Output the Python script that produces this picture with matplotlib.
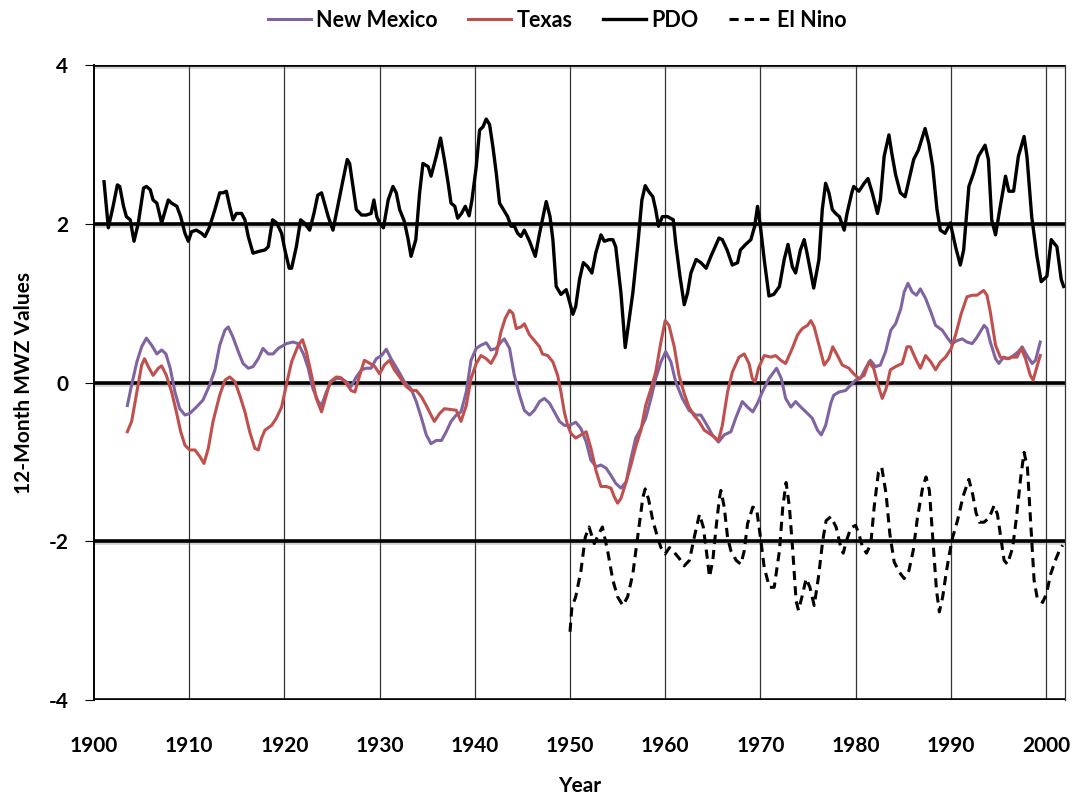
import matplotlib.pyplot as plt
import matplotlib.patheffects as pe

# PDO (черная сплошная линия)
pdo_years = [1901.05, 1901.5, 1902.0, 1902.45, 1902.7, 1903.1, 1903.4, 1903.8, 1904.2, 1904.65,
             1905.2, 1905.5, 1905.9, 1906.2, 1906.6, 1907.1, 1907.8, 1908.15, 1908.7, 1909.1,
             1909.55, 1909.9, 1910.25, 1910.75, 1911.3, 1911.65, 1912.1, 1912.7, 1913.2, 1913.55,
             1913.9, 1914.25, 1914.6, 1914.95, 1915.5, 1915.85, 1916.2, 1916.7, 1917.25, 1917.95,
             1918.3, 1918.75, 1919.2, 1919.7, 1920.05, 1920.5, 1920.75, 1921.25, 1921.7, 1922.1,
             1922.65, 1923.1, 1923.5, 1923.9, 1924.2, 1924.6, 1925.1, 1925.6, 1926.15, 1926.6,
             1926.85, 1927.2, 1927.55, 1928.1, 1928.6, 1929.1, 1929.4, 1929.7, 1930.0, 1930.4,
             1930.9, 1931.4, 1931.75, 1932.1, 1932.6, 1933.0, 1933.3, 1933.8, 1934.2, 1934.55,
             1935.1, 1935.4, 1935.95, 1936.4, 1936.8, 1937.2, 1937.5, 1937.9, 1938.2, 1938.6,
             1939.0, 1939.4, 1939.7, 1940.15, 1940.5, 1940.85, 1941.2, 1941.55, 1941.9, 1942.25,
             1942.6, 1943.0, 1943.45, 1943.8, 1944.15, 1944.5, 1944.85, 1945.2, 1945.75, 1946.35,
             1946.8, 1947.5, 1947.9, 1948.2, 1948.55, 1949.05, 1949.6, 1949.9, 1950.3, 1950.6,
             1951.0, 1951.4, 1951.85, 1952.3, 1952.7, 1953.25, 1953.6, 1954.1, 1954.5, 1954.8,
             1955.35, 1955.8, 1956.6, 1957.1, 1957.55, 1957.9, 1958.25, 1958.7, 1959.0, 1959.3,
             1959.7, 1960.25, 1960.85, 1961.1, 1961.55, 1962.0, 1962.35, 1962.7, 1963.25, 1963.75,
             1964.3, 1964.8, 1965.65, 1966.0, 1966.5, 1967.05, 1967.6, 1967.9, 1968.45, 1969.0,
             1969.4, 1969.7, 1970.0, 1970.4, 1970.9, 1971.4, 1972.0, 1972.5, 1972.9, 1973.35,
             1973.7, 1974.2, 1974.6, 1974.9, 1975.3, 1975.6, 1976.15, 1976.5, 1976.85, 1977.2,
             1977.55, 1977.9, 1978.3, 1978.8, 1979.1, 1979.6, 1979.8, 1980.35, 1980.9, 1981.3,
             1981.75, 1982.3, 1982.6, 1983.0, 1983.5, 1983.8, 1984.2, 1984.7, 1985.2, 1985.6,
             1986.1, 1986.6, 1987.3, 1987.7, 1988.1, 1988.55, 1988.9, 1989.4, 1989.95, 1990.5,
             1991.0, 1991.35, 1991.9, 1992.4, 1992.9, 1993.6, 1993.95, 1994.3, 1994.7, 1995.2,
             1995.75, 1996.1, 1996.6, 1997.1, 1997.7, 1998.0, 1998.5, 1999.05, 1999.5, 2000.1,
             2000.55, 2001.15, 2001.6, 2001.85]
pdo_vals = [2.53, 1.95, 2.22, 2.49, 2.47, 2.22, 2.09, 2.05, 1.78, 2.01,
            2.45, 2.47, 2.43, 2.30, 2.26, 2.01, 2.30, 2.26, 2.22, 2.09,
            1.88, 1.78, 1.90, 1.92, 1.88, 1.84, 1.95, 2.18, 2.39, 2.39,
            2.41, 2.22, 2.05, 2.13, 2.13, 2.05, 1.84, 1.63, 1.65, 1.67,
            1.71, 2.05, 2.01, 1.88, 1.67, 1.44, 1.44, 1.71, 2.05, 2.01,
            1.92, 2.13, 2.36, 2.39, 2.26, 2.09, 1.92, 2.22, 2.55, 2.81,
            2.76, 2.47, 2.18, 2.11, 2.11, 2.13, 2.30, 2.09, 2.01, 1.95,
            2.30, 2.47, 2.39, 2.18, 2.03, 1.80, 1.59, 1.80, 2.39, 2.76,
            2.72, 2.60, 2.85, 3.08, 2.81, 2.51, 2.26, 2.22, 2.07, 2.13,
            2.22, 2.10, 2.30, 2.72, 3.18, 3.22, 3.32, 3.25, 2.97, 2.64,
            2.26, 2.18, 2.09, 1.97, 1.97, 1.88, 1.84, 1.92, 1.78, 1.59,
            1.88, 2.28, 2.09, 1.80, 1.21, 1.11, 1.17, 1.04, 0.86, 0.96,
            1.30, 1.51, 1.46, 1.38, 1.63, 1.86, 1.78, 1.80, 1.80, 1.71,
            1.13, 0.44, 1.13, 1.71, 2.30, 2.48, 2.41, 2.34, 2.18, 1.97,
            2.09, 2.09, 2.05, 1.76, 1.34, 0.98, 1.13, 1.38, 1.55, 1.51,
            1.44, 1.59, 1.82, 1.80, 1.67, 1.48, 1.51, 1.67, 1.74, 1.80,
            1.97, 2.22, 1.97, 1.55, 1.09, 1.11, 1.21, 1.55, 1.74, 1.46,
            1.38, 1.67, 1.80, 1.63, 1.38, 1.19, 1.55, 2.18, 2.51, 2.39,
            2.18, 2.13, 2.09, 1.92, 2.13, 2.39, 2.47, 2.41, 2.51, 2.57,
            2.39, 2.13, 2.30, 2.85, 3.12, 2.89, 2.62, 2.39, 2.34, 2.55,
            2.81, 2.93, 3.20, 3.01, 2.72, 2.18, 1.92, 1.88, 2.01, 1.71,
            1.48, 1.67, 2.47, 2.64, 2.85, 2.99, 2.81, 2.05, 1.86, 2.22,
            2.60, 2.41, 2.41, 2.85, 3.10, 2.85, 2.09, 1.59, 1.27, 1.34,
            1.80, 1.71, 1.30, 1.21]

# Нью-Мексико (фиолетовая линия)
nm_years = [1903.5, 1903.95, 1904.5, 1905.0, 1905.5, 1906.05, 1906.6, 1907.1, 1907.55, 1908.0,
            1908.5, 1909.0, 1909.55, 1910.05, 1910.75, 1911.45, 1912.15, 1912.7, 1913.2, 1913.75,
            1914.1, 1914.6, 1915.15, 1915.65, 1916.2, 1916.7, 1917.25, 1917.75, 1918.3, 1918.8,
            1919.35, 1920.2, 1920.9, 1921.45, 1922.0, 1922.5, 1923.0, 1923.55, 1923.9, 1924.4,
            1924.9, 1925.45, 1925.95, 1926.5, 1927.0, 1927.55, 1928.1, 1928.6, 1929.1, 1929.65,
            1930.2, 1930.7, 1931.2, 1931.9, 1932.6, 1933.3, 1933.85, 1934.4, 1934.9, 1935.4,
            1935.95, 1936.5, 1937.0, 1937.5, 1938.05, 1938.55, 1939.1, 1939.6, 1940.15, 1940.65,
            1941.2, 1941.7, 1942.25, 1942.75, 1943.1, 1943.65, 1944.15, 1944.7, 1945.2, 1945.75,
            1946.25, 1946.8, 1947.3, 1947.85, 1948.35, 1948.9, 1949.4, 1949.95, 1950.6, 1951.15,
            1951.7, 1952.2, 1952.75, 1953.25, 1953.8, 1954.3, 1954.8, 1955.35, 1955.9, 1956.4,
            1956.9, 1957.45, 1957.95, 1958.5, 1959.0, 1959.55, 1960.05, 1960.6, 1961.1, 1961.8,
            1962.5, 1963.2, 1963.75, 1964.4, 1964.95, 1965.6, 1966.2, 1966.9, 1967.4, 1968.1,
            1968.65, 1969.2, 1969.7, 1970.2, 1970.9, 1971.7, 1972.2, 1972.65, 1973.2, 1973.7,
            1974.25, 1974.95, 1975.45, 1976.0, 1976.4, 1976.85, 1977.4, 1977.7, 1978.25, 1978.95,
            1979.5, 1980.0, 1980.5, 1981.05, 1981.55, 1982.1, 1982.6, 1983.15, 1983.7, 1984.2,
            1984.75, 1985.1, 1985.5, 1985.95, 1986.4, 1986.8, 1987.35, 1987.9, 1988.4, 1989.1,
            1989.6, 1990.1, 1990.7, 1991.2, 1991.7, 1992.25, 1992.75, 1993.5, 1993.8, 1994.15,
            1994.7, 1995.05, 1995.55, 1996.1, 1996.6, 1997.1, 1997.5, 1998.0, 1998.55, 1998.9,
            1999.4]
nm_vals = [-0.29, -0.03, 0.26, 0.45, 0.56, 0.47, 0.36, 0.41, 0.36, 0.18,
           -0.12, -0.33, -0.41, -0.39, -0.31, -0.22, -0.03, 0.16, 0.47, 0.66,
           0.70, 0.57, 0.39, 0.24, 0.18, 0.20, 0.30, 0.43, 0.36, 0.36,
           0.43, 0.49, 0.51, 0.49, 0.36, 0.18, -0.08, -0.24, -0.29, -0.12,
           0.01, 0.05, 0.05, 0.01, -0.05, 0.07, 0.16, 0.18, 0.18, 0.30,
           0.34, 0.42, 0.30, 0.16, 0.01, -0.08, -0.24, -0.45, -0.66, -0.77,
           -0.73, -0.73, -0.62, -0.49, -0.41, -0.37, -0.12, 0.28, 0.43, 0.47,
           0.50, 0.41, 0.43, 0.51, 0.55, 0.43, 0.09, -0.16, -0.35, -0.41,
           -0.35, -0.24, -0.20, -0.26, -0.37, -0.49, -0.54, -0.54, -0.50, -0.58,
           -0.75, -0.98, -1.06, -1.04, -1.08, -1.17, -1.27, -1.33, -1.25, -0.96,
           -0.70, -0.58, -0.45, -0.20, 0.05, 0.26, 0.39, 0.26, 0.01, -0.20,
           -0.35, -0.41, -0.41, -0.54, -0.66, -0.75, -0.66, -0.62, -0.45, -0.24,
           -0.31, -0.37, -0.26, -0.12, 0.05, 0.18, 0.05, -0.20, -0.31, -0.24,
           -0.31, -0.39, -0.45, -0.60, -0.66, -0.54, -0.26, -0.16, -0.12, -0.10,
           -0.03, 0.03, 0.05, 0.18, 0.28, 0.20, 0.22, 0.39, 0.66, 0.74,
           0.93, 1.14, 1.25, 1.14, 1.10, 1.18, 1.06, 0.89, 0.72, 0.66,
           0.57, 0.49, 0.53, 0.55, 0.51, 0.49, 0.57, 0.72, 0.68, 0.51,
           0.30, 0.24, 0.32, 0.30, 0.34, 0.39, 0.45, 0.34, 0.24, 0.28,
           0.51]

# Техас (красная линия)
tx_years = [1903.5, 1903.95, 1904.5, 1905.0, 1905.3, 1905.7, 1906.2, 1906.75, 1907.1, 1907.6,
            1908.15, 1908.65, 1909.1, 1909.55, 1910.05, 1910.6, 1911.1, 1911.55, 1912.0, 1912.5,
            1913.2, 1913.75, 1914.25, 1914.8, 1915.3, 1915.85, 1916.35, 1916.9, 1917.25, 1917.6,
            1917.95, 1918.65, 1919.15, 1919.7, 1920.2, 1920.75, 1921.45, 1921.9, 1922.3, 1922.85,
            1923.35, 1923.9, 1924.4, 1924.8, 1925.45, 1925.95, 1926.5, 1927.0, 1927.4, 1927.9,
            1928.4, 1929.0, 1929.5, 1930.0, 1930.5, 1931.05, 1931.55, 1932.1, 1932.8, 1933.3,
            1933.85, 1934.4, 1934.9, 1935.4, 1935.75, 1936.3, 1936.8, 1937.5, 1938.05, 1938.55,
            1939.1, 1939.6, 1940.15, 1940.65, 1941.2, 1941.7, 1942.25, 1942.75, 1943.2, 1943.65,
            1944.0, 1944.35, 1944.85, 1945.2, 1945.75, 1946.25, 1946.8, 1947.1, 1947.65, 1948.2,
            1948.7, 1949.05, 1949.4, 1949.75, 1950.1, 1950.6, 1951.15, 1951.7, 1952.2, 1952.75,
            1953.25, 1953.8, 1954.3, 1954.65, 1955.0, 1955.35, 1955.9, 1956.4, 1956.9, 1957.45,
            1957.95, 1958.5, 1959.0, 1959.55, 1960.0, 1960.4, 1960.95, 1961.45, 1962.0, 1962.5,
            1963.0, 1963.55, 1964.1, 1964.6, 1965.1, 1965.6, 1966.0, 1966.55, 1967.05, 1967.75,
            1968.3, 1968.8, 1969.15, 1969.45, 1969.8, 1970.4, 1971.1, 1971.6, 1972.15, 1972.65,
            1973.35, 1973.9, 1974.4, 1974.95, 1975.3, 1975.65, 1976.15, 1976.7, 1977.2, 1977.6,
            1978.1, 1978.6, 1979.3, 1979.8, 1980.35, 1980.9, 1981.4, 1981.9, 1982.35, 1982.8,
            1983.2, 1983.65, 1984.2, 1984.9, 1985.4, 1985.75, 1986.3, 1986.8, 1987.35, 1987.9,
            1988.4, 1988.9, 1989.45, 1990.05, 1990.55, 1991.1, 1991.7, 1992.25, 1992.75, 1993.45,
            1993.8, 1994.15, 1994.7, 1995.2, 1995.9, 1996.4, 1996.95, 1997.4, 1997.85, 1998.35,
            1998.65, 1999.05, 1999.4]
tx_vals = [-0.62, -0.49, -0.12, 0.22, 0.30, 0.20, 0.09, 0.18, 0.21, 0.09,
           -0.12, -0.37, -0.62, -0.79, -0.85, -0.85, -0.93, -1.02, -0.83, -0.49,
           -0.16, 0.03, 0.07, 0.01, -0.16, -0.37, -0.62, -0.83, -0.85, -0.70,
           -0.60, -0.54, -0.45, -0.31, -0.03, 0.26, 0.47, 0.54, 0.39, 0.09,
           -0.20, -0.37, -0.16, 0.01, 0.07, 0.06, -0.01, -0.10, -0.12, 0.09,
           0.28, 0.24, 0.20, 0.11, 0.22, 0.28, 0.16, 0.07, -0.05, -0.10,
           -0.10, -0.18, -0.29, -0.41, -0.49, -0.39, -0.33, -0.34, -0.35, -0.49,
           -0.29, 0.05, 0.24, 0.34, 0.30, 0.24, 0.36, 0.64, 0.81, 0.91,
           0.87, 0.68, 0.70, 0.74, 0.60, 0.53, 0.45, 0.36, 0.34, 0.26,
           0.09, -0.12, -0.37, -0.54, -0.64, -0.70, -0.66, -0.62, -0.83, -1.12,
           -1.31, -1.31, -1.33, -1.44, -1.52, -1.46, -1.25, -1.04, -0.81, -0.60,
           -0.29, -0.08, 0.13, 0.51, 0.78, 0.72, 0.45, 0.09, -0.14, -0.31,
           -0.41, -0.49, -0.60, -0.64, -0.68, -0.73, -0.54, -0.12, 0.13, 0.32,
           0.36, 0.24, 0.05, 0.01, 0.18, 0.34, 0.32, 0.34, 0.28, 0.24,
           0.43, 0.60, 0.68, 0.72, 0.78, 0.70, 0.47, 0.22, 0.30, 0.45,
           0.34, 0.22, 0.18, 0.11, 0.05, 0.09, 0.26, 0.18, -0.03, -0.20,
           -0.08, 0.16, 0.20, 0.24, 0.45, 0.45, 0.30, 0.18, 0.34, 0.26,
           0.16, 0.26, 0.32, 0.43, 0.62, 0.87, 1.08, 1.10, 1.10, 1.16,
           1.10, 0.89, 0.47, 0.32, 0.30, 0.32, 0.32, 0.43, 0.30, 0.09,
           0.03, 0.20, 0.34]

# Эль-Ниньо (пунктир)
nino_years = [1950.0, 1950.2, 1950.6, 1951.15, 1951.6, 1952.0, 1952.55, 1953.1, 1953.4, 1953.95,
              1954.5, 1955.0, 1955.55, 1956.05, 1956.6, 1957.1, 1957.65, 1957.9, 1958.25, 1958.7,
              1959.2, 1959.55, 1960.0, 1960.45, 1960.95, 1961.5, 1962.0, 1962.55, 1963.05, 1963.6,
              1964.0, 1964.45, 1964.65, 1965.0, 1965.35, 1965.7, 1965.85, 1966.2, 1966.55, 1966.9,
              1967.45, 1967.95, 1968.3, 1968.65, 1969.2, 1969.6, 1970.05, 1970.4, 1970.95, 1971.45,
              1972.0, 1972.35, 1972.7, 1973.05, 1973.4, 1973.75, 1974.0, 1974.45, 1974.8, 1975.2,
              1975.65, 1976.1, 1976.55, 1976.9, 1977.4, 1977.95, 1978.45, 1978.7, 1979.05, 1979.5,
              1980.0, 1980.3, 1980.75, 1981.15, 1981.6, 1981.95, 1982.4, 1982.75, 1983.2, 1983.6,
              1984.05, 1984.6, 1985.1, 1985.6, 1986.05, 1986.5, 1987.05, 1987.4, 1987.75, 1988.1,
              1988.5, 1988.8, 1989.15, 1989.5, 1989.85, 1990.2, 1990.7, 1991.3, 1991.9, 1992.3,
              1992.65, 1993.0, 1993.5, 1994.05, 1994.55, 1994.9, 1995.25, 1995.6, 1995.95, 1996.5,
              1996.9, 1997.35, 1997.7, 1998.05, 1998.4, 1998.75, 1999.1, 1999.65, 2000.05, 2000.5,
              2001.05, 2001.4, 2001.75]
nino_vals = [-3.14, -2.83, -2.70, -2.37, -1.95, -1.82, -2.03, -1.89, -1.82, -2.12,
             -2.49, -2.70, -2.81, -2.70, -2.41, -1.95, -1.45, -1.34, -1.47, -1.74,
             -1.95, -2.08, -2.16, -2.08, -2.14, -2.22, -2.31, -2.24, -1.95, -1.66,
             -1.82, -2.24, -2.45, -2.24, -1.82, -1.45, -1.36, -1.57, -1.95, -2.12,
             -2.24, -2.29, -2.12, -1.78, -1.57, -1.59, -1.99, -2.33, -2.58, -2.58,
             -2.12, -1.57, -1.26, -1.57, -2.12, -2.75, -2.87, -2.66, -2.47, -2.58,
             -2.81, -2.45, -1.99, -1.74, -1.69, -1.82, -2.08, -2.15, -1.99, -1.83,
             -1.80, -1.89, -2.08, -2.15, -2.03, -1.57, -1.13, -1.07, -1.40, -1.91,
             -2.26, -2.39, -2.47, -2.37, -2.12, -1.70, -1.32, -1.19, -1.36, -1.95,
             -2.62, -2.89, -2.70, -2.41, -2.16, -1.95, -1.74, -1.43, -1.22, -1.41,
             -1.64, -1.76, -1.76, -1.70, -1.55, -1.66, -1.95, -2.24, -2.29, -2.08,
             -1.70, -1.19, -0.88, -1.07, -1.78, -2.49, -2.73, -2.77, -2.66, -2.41,
             -2.22, -2.12, -2.05]

x_ticks = [1900, 1910, 1920, 1930, 1940, 1950, 1960, 1970, 1980, 1990, 2000]
y_ticks = [-4, -2, 0, 2, 4]

plt.rcParams['font.family'] = ['Lato', 'DejaVu Sans']
plt.rcParams['font.weight'] = 'bold'
plt.rcParams['axes.unicode_minus'] = False

fig = plt.figure(figsize=(10.76, 7.97), dpi=100)
ax = fig.add_axes([0.0874, 0.1217, 0.9024, 0.7967])

# Вертикальная сетка (тонкая) и горизонтальная (жирная с тенью)
for xv in x_ticks[1:]:
    ax.axvline(xv, color='#333333', lw=0.9, zorder=1)
shadow = [pe.SimpleLineShadow(offset=(0, -1.5), shadow_color='gray', alpha=0.35), pe.Normal()]
for yv in y_ticks:
    ax.axhline(yv, color='black', lw=2.6, zorder=2, path_effects=shadow)

ax.plot(nm_years, nm_vals, color='#8064A2', lw=2.2, label='New Mexico', zorder=3)
ax.plot(tx_years, tx_vals, color='#C0504D', lw=2.2, label='Texas', zorder=4)
ax.plot(pdo_years, pdo_vals, color='black', lw=2.4, label='PDO', zorder=5)
ax.plot(nino_years, nino_vals, color='black', lw=2.2, ls=(0, (3, 2)), label='El Nino', zorder=5)

ax.set_xlim(1900, 2002)
ax.set_ylim(-4, 4)
ax.set_xticks(x_ticks)
ax.set_yticks(y_ticks)
ax.tick_params(axis='x', length=0, pad=26, labelsize=15)
ax.tick_params(axis='y', length=6.5, width=0.8, pad=12, labelsize=15)

for side in ['top', 'bottom']:
    ax.spines[side].set_visible(False)
ax.spines['left'].set_linewidth(1.4)
ax.spines['right'].set_linewidth(0.9)
ax.spines['right'].set_color('#333333')

ax.set_xlabel('Year', fontsize=15, fontweight='bold', labelpad=14)
ax.set_ylabel('12-Month MWZ Values', fontsize=15, fontweight='bold', labelpad=10)

fig.legend(loc='upper center', bbox_to_anchor=(0.518, 1.012), ncol=4, frameon=False,
           fontsize=15.5, handlelength=2.0, columnspacing=1.4, handletextpad=0.25)

fig.savefig('out.png', dpi=100)
